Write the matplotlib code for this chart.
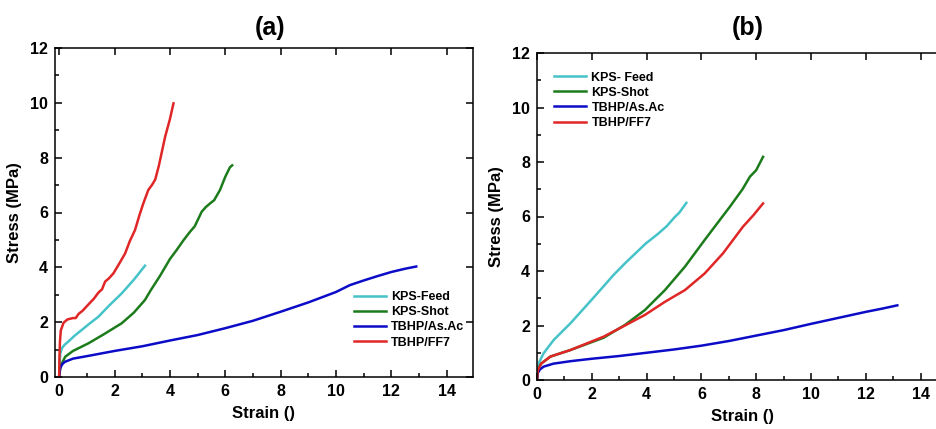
import numpy as np
import matplotlib
matplotlib.use("Agg")
import matplotlib.pyplot as plt
from matplotlib.ticker import MultipleLocator

plt.rcParams['font.family'] = ['Liberation Sans', 'DejaVu Sans']
plt.rcParams['font.weight'] = 'bold'

labels_a = ['KPS-Feed', 'KPS-Shot', 'TBHP/As.Ac', 'TBHP/FF7']
labels_b = ['KPS- Feed', 'KPS-Shot', 'TBHP/As.Ac', 'TBHP/FF7']
colors = ['#45c3c9', '#1c7c1c', '#0c0cc8', '#e02626']

# panel (a)
a_feed_x = [0, 0.02, 0.04, 0.1, 0.2, 0.34, 0.55, 0.82, 1.1, 1.42, 1.8, 2.26, 2.7, 3.1]
a_feed_y = [0, 0.5, 0.86, 1.05, 1.18, 1.3, 1.5, 1.72, 1.95, 2.2, 2.6, 3.05, 3.55, 4.06]
a_shot_x = [0, 0.05, 0.22, 0.5, 1.06, 1.6, 2.26, 2.7, 3.1, 3.3, 3.65, 4.0, 4.25, 4.5,
            4.73, 4.9, 5.15, 5.3, 5.45, 5.6, 5.81, 6.0, 6.17, 6.25]
a_shot_y = [0, 0.4, 0.74, 0.95, 1.23, 1.55, 1.96, 2.35, 2.81, 3.15, 3.7, 4.3, 4.64, 5.0,
            5.3, 5.5, 6.03, 6.2, 6.33, 6.45, 6.82, 7.3, 7.65, 7.72]
a_as_x = [0, 0.03, 0.1, 0.2, 0.5, 1, 2, 3, 4, 5, 6, 7, 8, 9, 10, 10.5, 11, 11.5, 12, 12.5, 12.9]
a_as_y = [0, 0.3, 0.45, 0.55, 0.67, 0.76, 0.95, 1.12, 1.33, 1.53, 1.78, 2.05, 2.38, 2.72,
          3.1, 3.35, 3.52, 3.68, 3.83, 3.95, 4.03]
a_ff7_x = [0, 0.01, 0.03, 0.06, 0.16, 0.3, 0.5, 0.6, 0.7, 0.85, 1.06, 1.25, 1.42, 1.55,
           1.66, 1.8, 1.96, 2.15, 2.38, 2.55, 2.74, 2.9, 3.04, 3.22, 3.35, 3.47, 3.6,
           3.83, 4.0, 4.13]
a_ff7_y = [0, 0.7, 1.3, 1.7, 1.98, 2.1, 2.15, 2.15, 2.3, 2.42, 2.65, 2.85, 3.08, 3.2,
           3.48, 3.6, 3.78, 4.1, 4.5, 4.95, 5.36, 5.9, 6.33, 6.82, 7.0, 7.2, 7.7,
           8.77, 9.4, 9.98]

# panel (b)
b_feed_x = [0, 0.02, 0.08, 0.24, 0.61, 1.22, 2.0, 2.79, 3.21, 3.97, 4.4, 4.74, 5.0, 5.2, 5.45]
b_feed_y = [0, 0.4, 0.65, 0.98, 1.47, 2.08, 2.95, 3.85, 4.28, 5.01, 5.35, 5.65, 5.95, 6.15, 6.5]
b_shot_x = [0, 0.03, 0.15, 0.49, 1.22, 2.43, 3.21, 3.94, 4.67, 5.4, 6.12, 6.67, 7.04,
            7.5, 7.77, 8.0, 8.25]
b_shot_y = [0, 0.35, 0.6, 0.86, 1.1, 1.55, 2.02, 2.57, 3.3, 4.16, 5.14, 5.87, 6.36,
            7.0, 7.46, 7.7, 8.19]
b_as_x = [0, 0.03, 0.1, 0.24, 0.6, 1.22, 2, 3, 4, 5, 6, 7, 8, 9, 10, 11, 12, 12.6, 13.15]
b_as_y = [0, 0.25, 0.38, 0.49, 0.6, 0.69, 0.78, 0.88, 1.0, 1.12, 1.26, 1.43, 1.63,
          1.83, 2.06, 2.28, 2.5, 2.62, 2.74]
b_ff7_x = [0, 0.03, 0.15, 0.49, 1.22, 2.43, 3.21, 3.94, 4.67, 5.4, 6.12, 6.79, 7.2,
           7.52, 7.9, 8.25]
b_ff7_y = [0, 0.35, 0.6, 0.86, 1.1, 1.59, 2.0, 2.39, 2.87, 3.3, 3.91, 4.65, 5.2,
           5.63, 6.05, 6.48]

series_a = [(a_feed_x, a_feed_y), (a_shot_x, a_shot_y), (a_as_x, a_as_y), (a_ff7_x, a_ff7_y)]
series_b = [(b_feed_x, b_feed_y), (b_shot_x, b_shot_y), (b_as_x, b_as_y), (b_ff7_x, b_ff7_y)]

fig = plt.figure(figsize=(9.36, 4.29), dpi=100)
W, H = 936.0, 429.0
ax1 = fig.add_axes([55 / W, (H - 377) / H, 418 / W, 329 / H])
ax2 = fig.add_axes([537 / W, (H - 380) / H, 411 / W, 327 / H])


def style(ax, xlim):
    ax.set_xlim(*xlim)
    ax.set_ylim(0, 12)
    ax.xaxis.set_major_locator(MultipleLocator(2))
    ax.xaxis.set_minor_locator(MultipleLocator(1))
    ax.yaxis.set_major_locator(MultipleLocator(2))
    ax.yaxis.set_minor_locator(MultipleLocator(1))
    ax.tick_params(which='both', direction='in', labelsize=11.5, pad=5, width=1.1,
                   top=True, right=True)
    ax.tick_params(which='major', length=5)
    ax.tick_params(which='minor', length=3, top=False, right=False)
    for s in ax.spines.values():
        s.set_linewidth(1.1)
    for t in ax.get_xticklabels() + ax.get_yticklabels():
        t.set_fontweight('bold')
    ax.set_xlabel('Strain ()', fontsize=12, fontweight='bold', labelpad=5)
    ax.set_ylabel('Stress (MPa)', fontsize=12, fontweight='bold', labelpad=6)


for (x, y), c, lab in zip(series_a, colors, labels_a):
    ax1.plot(x, y, color=c, lw=1.8, label=lab, solid_joinstyle='round')
for (x, y), c, lab in zip(series_b, colors, labels_b):
    ax2.plot(x, y, color=c, lw=1.8, label=lab, solid_joinstyle='round')

style(ax1, (-0.15, 14.95))
style(ax2, (0, 15))

leg_kw = dict(frameon=False, handlelength=2.6, handletextpad=0.4,
              labelspacing=0.25, borderaxespad=0.3, prop={'weight': 'bold', 'size': 9})
ax1.legend(loc='lower right', bbox_to_anchor=(1.0, 0.06), **leg_kw)
ax2.legend(loc='upper left', bbox_to_anchor=(0.02, 0.97), **leg_kw)

fig.text(270 / W, 1 - 28 / H, '(a)', fontsize=18, fontweight='bold', ha='center', va='center')
fig.text(748 / W, 1 - 28 / H, '(b)', fontsize=18, fontweight='bold', ha='center', va='center')

fig.savefig('out.png', dpi=100)
